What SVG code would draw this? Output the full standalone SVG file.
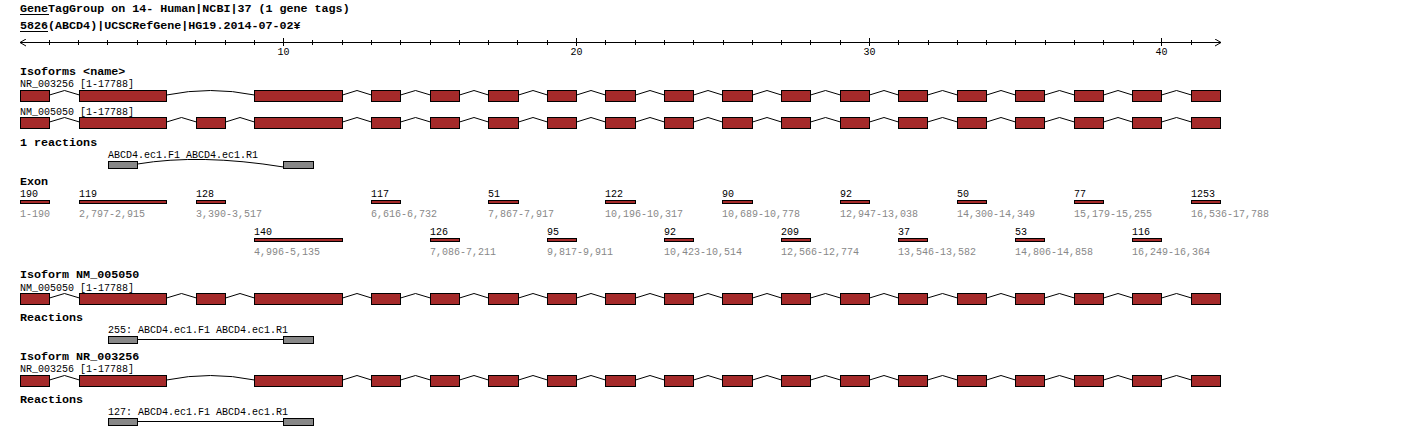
<svg xmlns="http://www.w3.org/2000/svg" width="1420" height="428" viewBox="0 0 1420 428">
<style>
text{font-family:"Liberation Mono","DejaVu Sans Mono",monospace;fill:#000}
.b{font-size:11.7px;font-weight:bold}
.r{font-size:10px}
.g{font-size:10px;fill:#888}
.t{font-size:10px;text-anchor:middle}
.ex{fill:#a52a2a;stroke:#000;stroke-width:1}
.rx{fill:#888;stroke:#000;stroke-width:1}
.ln{fill:none;stroke:#000;stroke-width:1}
.ul{stroke:#000;stroke-width:1}
</style>
<defs>
<marker id="arr" viewBox="0 0 6 8" refX="6" refY="4" markerWidth="6" markerHeight="8" markerUnits="userSpaceOnUse" orient="auto-start-reverse"><path d="M0,0.5 L6,4 L0,7.5" fill="none" stroke="#000" stroke-width="1"/></marker>
<g id="common-exons">
<rect class="ex" x="20.5" y="0" width="29" height="11"/>
<rect class="ex" x="79.5" y="0" width="87" height="11"/>
<rect class="ex" x="254.5" y="0" width="88" height="11"/>
<rect class="ex" x="371.5" y="0" width="29" height="11"/>
<rect class="ex" x="430.5" y="0" width="29" height="11"/>
<rect class="ex" x="488.5" y="0" width="30" height="11"/>
<rect class="ex" x="547.5" y="0" width="29" height="11"/>
<rect class="ex" x="605.5" y="0" width="30" height="11"/>
<rect class="ex" x="664.5" y="0" width="29" height="11"/>
<rect class="ex" x="722.5" y="0" width="30" height="11"/>
<rect class="ex" x="781.5" y="0" width="29" height="11"/>
<rect class="ex" x="840.5" y="0" width="29" height="11"/>
<rect class="ex" x="898.5" y="0" width="29" height="11"/>
<rect class="ex" x="957.5" y="0" width="29" height="11"/>
<rect class="ex" x="1015.5" y="0" width="29" height="11"/>
<rect class="ex" x="1074.5" y="0" width="29" height="11"/>
<rect class="ex" x="1132.5" y="0" width="29" height="11"/>
<rect class="ex" x="1191.5" y="0" width="29" height="11"/>
</g>
<g id="nr-exons"><use href="#common-exons"/></g>
<g id="nm-exons"><use href="#common-exons"/><rect class="ex" x="196.5" y="0" width="29" height="11"/></g>
<g id="common-introns">
<polyline class="ln" points="49.5,4.5 64.5,0 79.5,4.5"/>
<polyline class="ln" points="342.5,4.5 357,0 371.5,4.5"/>
<polyline class="ln" points="400.5,4.5 415.5,0 430.5,4.5"/>
<polyline class="ln" points="459.5,4.5 474,0 488.5,4.5"/>
<polyline class="ln" points="518.5,4.5 533,0 547.5,4.5"/>
<polyline class="ln" points="576.5,4.5 591,0 605.5,4.5"/>
<polyline class="ln" points="635.5,4.5 650,0 664.5,4.5"/>
<polyline class="ln" points="693.5,4.5 708,0 722.5,4.5"/>
<polyline class="ln" points="752.5,4.5 767,0 781.5,4.5"/>
<polyline class="ln" points="810.5,4.5 825.5,0 840.5,4.5"/>
<polyline class="ln" points="869.5,4.5 884,0 898.5,4.5"/>
<polyline class="ln" points="927.5,4.5 942.5,0 957.5,4.5"/>
<polyline class="ln" points="986.5,4.5 1001,0 1015.5,4.5"/>
<polyline class="ln" points="1044.5,4.5 1059.5,0 1074.5,4.5"/>
<polyline class="ln" points="1103.5,4.5 1118,0 1132.5,4.5"/>
<polyline class="ln" points="1161.5,4.5 1176.5,0 1191.5,4.5"/>
</g>
<g id="nr-introns"><use href="#common-introns"/><path class="ln" d="M166.5,4.5 Q210.5,-4.5 254.5,4.5"/></g>
<g id="nm-introns"><use href="#common-introns"/><polyline class="ln" points="166.5,4.5 181.5,0 196.5,4.5"/><polyline class="ln" points="225.5,4.5 240,0 254.5,4.5"/></g>
</defs>
<rect width="1420" height="428" fill="#fff"/>

<g id="header">
<text class="b" x="20" y="12">GeneTagGroup on 14- Human|NCBI|37 (1 gene tags)</text>
<line class="ul" x1="20" y1="14.5" x2="49" y2="14.5"/>
<text class="b" x="20" y="29">5826(ABCD4)|UCSCRefGene|HG19.2014-07-02¥</text>
<line class="ul" x1="20" y1="31.5" x2="48" y2="31.5"/>
</g>

<g id="axis" shape-rendering="crispEdges">
<path class="ln" d="M20,42.5 H1221" marker-start="url(#arr)" marker-end="url(#arr)"/>
<path class="ln" d="M49.5,40V45M78.5,40V45M107.5,40V45M137.5,40V45M166.5,40V45M195.5,40V45M225.5,40V45M254.5,40V45M312.5,40V45M342.5,40V45M371.5,40V45M400.5,40V45M430.5,40V45M459.5,40V45M488.5,40V45M517.5,40V45M547.5,40V45M605.5,40V45M635.5,40V45M664.5,40V45M693.5,40V45M723.5,40V45M752.5,40V45M781.5,40V45M810.5,40V45M840.5,40V45M898.5,40V45M928.5,40V45M957.5,40V45M986.5,40V45M1015.5,40V45M1045.5,40V45M1074.5,40V45M1103.5,40V45M1133.5,40V45M1191.5,40V45"/>
<path class="ln" d="M283.5,38V46M576.5,38V46M869.5,38V46M1161.5,38V46"/>
<text class="t" x="283.5" y="55">10</text>
<text class="t" x="576.5" y="55">20</text>
<text class="t" x="869.5" y="55">30</text>
<text class="t" x="1161.5" y="55">40</text>
</g>

<g id="isoforms">
<text class="b" x="20" y="75">Isoforms &lt;name&gt;</text>
<g id="iso-NR_003256">
<text class="r" x="20" y="87">NR_003256 [1-17788]</text>
<use href="#nr-exons" y="90.5"/>
</g>
<g id="iso-NM_005050">
<text class="r" x="20" y="115">NM_005050 [1-17788]</text>
<use href="#nm-exons" y="117.5"/>
</g>
</g>

<g id="reactions-all">
<text class="b" x="20" y="146">1 reactions</text>
<g id="reaction-1">
<text class="r" x="108" y="158">ABCD4.ec1.F1 ABCD4.ec1.R1</text>
<rect class="rx" x="108.5" y="161.5" width="29" height="7"/>
<rect class="rx" x="283.5" y="161.5" width="30" height="7"/>
</g>
</g>

<g id="exons">
<text class="b" x="20" y="185">Exon</text>
<g id="exon-1"><text class="r" x="20" y="197">190</text><rect class="ex" x="20.5" y="200.5" width="29" height="3"/><text class="g" x="20" y="217">1-190</text></g>
<g id="exon-2"><text class="r" x="79" y="197">119</text><rect class="ex" x="79.5" y="200.5" width="87" height="3"/><text class="g" x="79" y="217">2,797-2,915</text></g>
<g id="exon-3"><text class="r" x="196" y="197">128</text><rect class="ex" x="196.5" y="200.5" width="29" height="3"/><text class="g" x="196" y="217">3,390-3,517</text></g>
<g id="exon-4"><text class="r" x="254" y="235">140</text><rect class="ex" x="254.5" y="238.5" width="88" height="3"/><text class="g" x="254" y="255">4,996-5,135</text></g>
<g id="exon-5"><text class="r" x="371" y="197">117</text><rect class="ex" x="371.5" y="200.5" width="29" height="3"/><text class="g" x="371" y="217">6,616-6,732</text></g>
<g id="exon-6"><text class="r" x="430" y="235">126</text><rect class="ex" x="430.5" y="238.5" width="29" height="3"/><text class="g" x="430" y="255">7,086-7,211</text></g>
<g id="exon-7"><text class="r" x="488" y="197">51</text><rect class="ex" x="488.5" y="200.5" width="30" height="3"/><text class="g" x="488" y="217">7,867-7,917</text></g>
<g id="exon-8"><text class="r" x="547" y="235">95</text><rect class="ex" x="547.5" y="238.5" width="29" height="3"/><text class="g" x="547" y="255">9,817-9,911</text></g>
<g id="exon-9"><text class="r" x="605" y="197">122</text><rect class="ex" x="605.5" y="200.5" width="30" height="3"/><text class="g" x="605" y="217">10,196-10,317</text></g>
<g id="exon-10"><text class="r" x="664" y="235">92</text><rect class="ex" x="664.5" y="238.5" width="29" height="3"/><text class="g" x="664" y="255">10,423-10,514</text></g>
<g id="exon-11"><text class="r" x="722" y="197">90</text><rect class="ex" x="722.5" y="200.5" width="30" height="3"/><text class="g" x="722" y="217">10,689-10,778</text></g>
<g id="exon-12"><text class="r" x="781" y="235">209</text><rect class="ex" x="781.5" y="238.5" width="29" height="3"/><text class="g" x="781" y="255">12,566-12,774</text></g>
<g id="exon-13"><text class="r" x="840" y="197">92</text><rect class="ex" x="840.5" y="200.5" width="29" height="3"/><text class="g" x="840" y="217">12,947-13,038</text></g>
<g id="exon-14"><text class="r" x="898" y="235">37</text><rect class="ex" x="898.5" y="238.5" width="29" height="3"/><text class="g" x="898" y="255">13,546-13,582</text></g>
<g id="exon-15"><text class="r" x="957" y="197">50</text><rect class="ex" x="957.5" y="200.5" width="29" height="3"/><text class="g" x="957" y="217">14,300-14,349</text></g>
<g id="exon-16"><text class="r" x="1015" y="235">53</text><rect class="ex" x="1015.5" y="238.5" width="29" height="3"/><text class="g" x="1015" y="255">14,806-14,858</text></g>
<g id="exon-17"><text class="r" x="1074" y="197">77</text><rect class="ex" x="1074.5" y="200.5" width="29" height="3"/><text class="g" x="1074" y="217">15,179-15,255</text></g>
<g id="exon-18"><text class="r" x="1132" y="235">116</text><rect class="ex" x="1132.5" y="238.5" width="29" height="3"/><text class="g" x="1132" y="255">16,249-16,364</text></g>
<g id="exon-19"><text class="r" x="1191" y="197">1253</text><rect class="ex" x="1191.5" y="200.5" width="29" height="3"/><text class="g" x="1191" y="217">16,536-17,788</text></g>
</g>

<g id="isoform-NM_005050">
<text class="b" x="20" y="278">Isoform NM_005050</text>
<g id="track-NM_005050">
<text class="r" x="20" y="291">NM_005050 [1-17788]</text>
<use href="#nm-exons" y="293.5"/>
</g>
<text class="b" x="20" y="321">Reactions</text>
<g id="reaction-255">
<text class="r" x="108" y="333">255: ABCD4.ec1.F1 ABCD4.ec1.R1</text>
<rect class="rx" x="108.5" y="336.5" width="29" height="7"/>
<rect class="rx" x="283.5" y="336.5" width="30" height="7"/>
</g>
</g>

<g id="isoform-NR_003256">
<text class="b" x="20" y="360">Isoform NR_003256</text>
<g id="track-NR_003256">
<text class="r" x="20" y="372">NR_003256 [1-17788]</text>
<use href="#nr-exons" y="375.5"/>
</g>
<text class="b" x="20" y="403">Reactions</text>
<g id="reaction-127">
<text class="r" x="108" y="415">127: ABCD4.ec1.F1 ABCD4.ec1.R1</text>
<rect class="rx" x="108.5" y="418.5" width="29" height="7"/>
<rect class="rx" x="283.5" y="418.5" width="30" height="7"/>
</g>
</g>

<g id="connectors">
<use href="#nr-introns" y="90.5"/>
<use href="#nm-introns" y="117.5"/>
<path class="ln" d="M137.5,164 Q200,153.5 283.5,167"/>
<use href="#nm-introns" y="293.5"/>
<line class="ln" x1="137.5" y1="339.5" x2="283.5" y2="339.5"/>
<use href="#nr-introns" y="375.5"/>
<line class="ln" x1="137.5" y1="421.5" x2="283.5" y2="421.5"/>
</g>
</svg>
